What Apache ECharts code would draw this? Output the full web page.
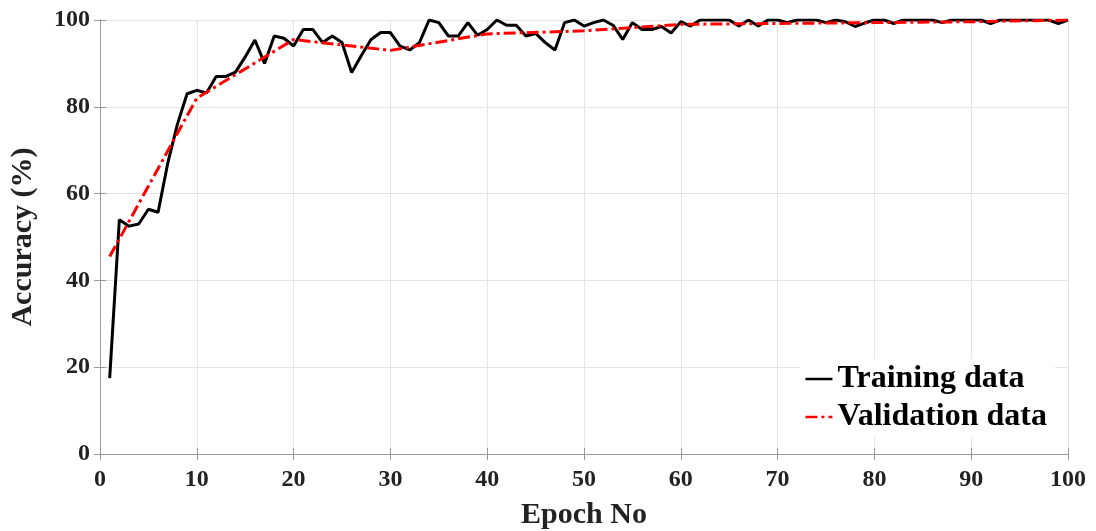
<!DOCTYPE html>
<html>
<head>
<meta charset="utf-8">
<script src="https://cdn.jsdelivr.net/npm/echarts@6/dist/echarts.min.js"></script>
<style>
  html, body { margin: 0; padding: 0; background: #fff; }
  #acc-echar { width: 1096px; height: 531px; }
</style>
</head>
<body>
<div id="acc-echar"></div>
<script>
// epochs + accuracy
var trainEpochs = [];
for (var i = 1; i <= 100; i++) trainEpochs.push(i);
var trainAcc = [
  17.5, 54, 52.5, 53, 56.4, 55.7, 67, 76, 83, 83.8,
  83.2, 87, 87, 88, 91.5, 95.4, 90, 96.3, 95.8, 94,
  97.8, 97.8, 94.8, 96.3, 94.8, 87.9, 91.8, 95.5, 97.1, 97.1,
  94, 93.1, 94.8, 100, 99.4, 96.3, 96.3, 99.4, 96.5, 97.8,
  100, 98.8, 98.8, 96.3, 96.9, 94.8, 93.1, 99.4, 100, 98.6,
  99.4, 100, 98.8, 95.5, 99.4, 97.8, 97.8, 98.5, 97, 99.6,
  98.6, 100, 100, 100, 100, 98.6, 100, 98.6, 100, 100,
  99.4, 100, 100, 100, 99.4, 100, 99.6, 98.5, 99.3, 100,
  100, 99.2, 100, 100, 100, 100, 99.4, 100, 100, 100,
  100, 99.2, 100, 100, 100, 100, 100, 100, 99.2, 100
];
var valEpochs = [1, 10, 20, 30, 40, 50, 60, 70, 80, 90, 100];
var valAcc = [45.5, 82, 95.5, 93, 96.8, 97.5, 99, 99.2, 99.4, 99.6, 100];

function pairs(xs, ys) {
  var out = [];
  for (var i = 0; i < xs.length; i++) out.push([xs[i], ys[i]]);
  return out;
}

var FONT = '"Liberation Serif", "Times New Roman", serif';
var frame = '#9a9a9a';
var gridCol = '#e4e4e4';

var acc_echar = echarts.init(document.getElementById('acc-echar'));
var acc_option = {
  animation: false,
  grid: { left: 100, right: 28, top: 20, bottom: 77, outerBoundsMode: 'none' },
  legend: {
    orient: 'vertical',
    right: 41,
    top: 359,
    itemWidth: 27,
    itemHeight: 14,
    itemGap: 6,
    backgroundColor: '#fff',
    padding: [4, 8, 4, 4],
    itemStyle: { opacity: 0 },
    lineStyle: { width: 2.5 },
    data: ['Training data', 'Validation data'],
    textStyle: { fontFamily: FONT, fontWeight: 'bold', fontSize: 32, color: '#000' }
  },
  xAxis: [
    {
      type: 'value', min: 0, max: 100, interval: 10,
      name: 'Epoch No', nameLocation: 'middle', nameGap: 46,
      nameTextStyle: { fontFamily: FONT, fontWeight: 'bold', fontSize: 30, color: '#222' },
      axisLine: { show: true, lineStyle: { color: frame } },
      axisTick: { inside: true, length: 6, lineStyle: { color: frame } },
      axisLabel: { fontFamily: FONT, fontWeight: 'bold', fontSize: 24, color: '#222', margin: 14 },
      splitLine: { show: true, lineStyle: { color: gridCol } }
    },
    {
      type: 'value', min: 0, max: 100, interval: 10, position: 'top',
      axisLine: { show: true, lineStyle: { color: frame } },
      axisTick: { inside: true, length: 6, lineStyle: { color: frame } },
      axisLabel: { show: false },
      splitLine: { show: false }
    }
  ],
  yAxis: [
    {
      type: 'value', min: 0, max: 100, interval: 20,
      name: 'Accuracy (%)', nameLocation: 'middle', nameGap: 62,
      nameTextStyle: { fontFamily: FONT, fontWeight: 'bold', fontSize: 30, color: '#222' },
      axisLine: { show: true, lineStyle: { color: frame } },
      axisTick: { inside: true, length: 6, lineStyle: { color: frame } },
      axisLabel: { fontFamily: FONT, fontWeight: 'bold', fontSize: 24, color: '#222', margin: 10 },
      splitLine: { show: true, lineStyle: { color: gridCol } }
    },
    {
      type: 'value', min: 0, max: 100, interval: 20, position: 'right',
      axisLine: { show: true, lineStyle: { color: frame } },
      axisTick: { inside: true, length: 6, lineStyle: { color: frame } },
      axisLabel: { show: false },
      splitLine: { show: false }
    }
  ],
  series: [
    {
      name: 'Training data',
      type: 'line',
      symbol: 'none',
      color: '#000',
      lineStyle: { color: '#000', width: 3 },
      data: pairs(trainEpochs, trainAcc),
      z: 3
    },
    {
      name: 'Validation data',
      type: 'line',
      symbol: 'none',
      color: '#ff0000',
      lineStyle: { color: '#ff0000', width: 3, type: [12, 4, 3, 4] },
      data: pairs(valEpochs, valAcc),
      z: 4
    }
  ]
};
acc_echar.setOption(acc_option);
</script>
</body>
</html>
